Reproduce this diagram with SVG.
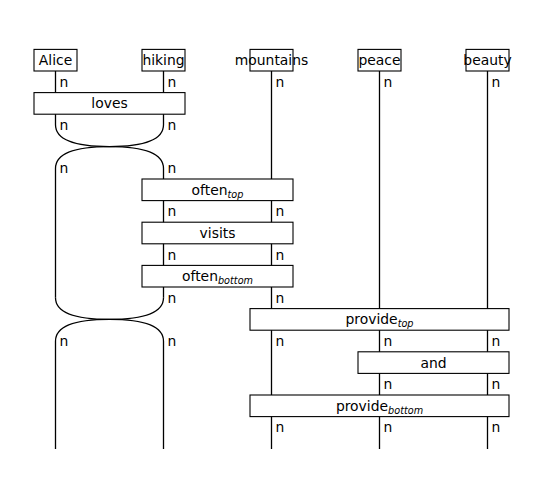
<svg xmlns="http://www.w3.org/2000/svg" width="543" height="499" viewBox="0 0 543 499">
<style>
.w{stroke:#000;stroke-width:1.3;fill:none}
.b{fill:#fff;stroke:#000;stroke-width:1.1}
.t{font-family:"DejaVu Sans",sans-serif;font-size:13.9px;fill:#000;text-anchor:middle}
.n{font-family:"DejaVu Sans",sans-serif;font-size:13.9px;fill:#000}
.s{font-size:9.7px;font-style:italic}
</style>
<rect width="543" height="499" fill="#fff"/>
<g id="connectors">
<path class="w" d="M55.5,71V124.8Q55.5,146.6 109.5,146.6Q163.5,146.6 163.5,124.8V71"/>
<path class="w" d="M55.5,297.8V168.4Q55.5,146.6 109.5,146.6Q163.5,146.6 163.5,168.4V297.8"/>
<path class="w" d="M55.5,297.8Q55.5,319.4 109.5,319.4Q163.5,319.4 163.5,297.8"/>
<path class="w" d="M55.5,449V341.2Q55.5,319.4 109.5,319.4Q163.5,319.4 163.5,341.2V449"/>
<path class="w" d="M271.5,71V449"/>
<path class="w" d="M379.5,71V449"/>
<path class="w" d="M487.5,71V449"/>
</g>
<g id="Alice"><rect class="b" x="34" y="49.4" width="43" height="21.6"/><text class="t" x="55.5" y="65.2">Alice</text></g>
<g id="hiking"><rect class="b" x="142" y="49.4" width="43" height="21.6"/><text class="t" x="163.5" y="65.2">hiking</text></g>
<g id="mountains"><rect class="b" x="250" y="49.4" width="43" height="21.6"/><text class="t" x="271.5" y="65.2">mountains</text></g>
<g id="peace"><rect class="b" x="358" y="49.4" width="43" height="21.6"/><text class="t" x="379.5" y="65.2">peace</text></g>
<g id="beauty"><rect class="b" x="466" y="49.4" width="43" height="21.6"/><text class="t" x="487.5" y="65.2">beauty</text></g>
<g id="loves"><rect class="b" x="34" y="92.6" width="151" height="21.6"/><text class="t" x="109.5" y="108.4">loves</text></g>
<g id="often_top"><rect class="b" x="142" y="179" width="151" height="21.6"/><text class="t" x="217.5" y="194.8">often<tspan class="s" dy="3">top</tspan></text></g>
<g id="visits"><rect class="b" x="142" y="222.2" width="151" height="21.6"/><text class="t" x="217.5" y="238">visits</text></g>
<g id="often_bottom"><rect class="b" x="142" y="265.4" width="151" height="21.6"/><text class="t" x="217.5" y="281.2">often<tspan class="s" dy="3">bottom</tspan></text></g>
<g id="provide_top"><rect class="b" x="250" y="308.6" width="259" height="21.6"/><text class="t" x="379.5" y="324.4">provide<tspan class="s" dy="3">top</tspan></text></g>
<g id="and"><rect class="b" x="358" y="351.8" width="151" height="21.6"/><text class="t" x="433.5" y="367.6">and</text></g>
<g id="provide_bottom"><rect class="b" x="250" y="395" width="259" height="21.6"/><text class="t" x="379.5" y="410.8">provide<tspan class="s" dy="3">bottom</tspan></text></g>
<g id="labels">
<text class="n" x="59.5" y="86.7">n</text><text class="n" x="167.5" y="86.7">n</text><text class="n" x="275.5" y="86.7">n</text><text class="n" x="383.5" y="86.7">n</text><text class="n" x="491.5" y="86.7">n</text>
<text class="n" x="59.5" y="129.9">n</text><text class="n" x="167.5" y="129.9">n</text>
<text class="n" x="59.5" y="173.1">n</text><text class="n" x="167.5" y="173.1">n</text>
<text class="n" x="167.5" y="216.3">n</text><text class="n" x="275.5" y="216.3">n</text>
<text class="n" x="167.5" y="259.5">n</text><text class="n" x="275.5" y="259.5">n</text>
<text class="n" x="167.5" y="302.7">n</text><text class="n" x="275.5" y="302.7">n</text>
<text class="n" x="59.5" y="345.9">n</text><text class="n" x="167.5" y="345.9">n</text><text class="n" x="275.5" y="345.9">n</text><text class="n" x="383.5" y="345.9">n</text><text class="n" x="491.5" y="345.9">n</text>
<text class="n" x="383.5" y="389.1">n</text><text class="n" x="491.5" y="389.1">n</text>
<text class="n" x="275.5" y="432.3">n</text><text class="n" x="383.5" y="432.3">n</text><text class="n" x="491.5" y="432.3">n</text>
</g>
</svg>
